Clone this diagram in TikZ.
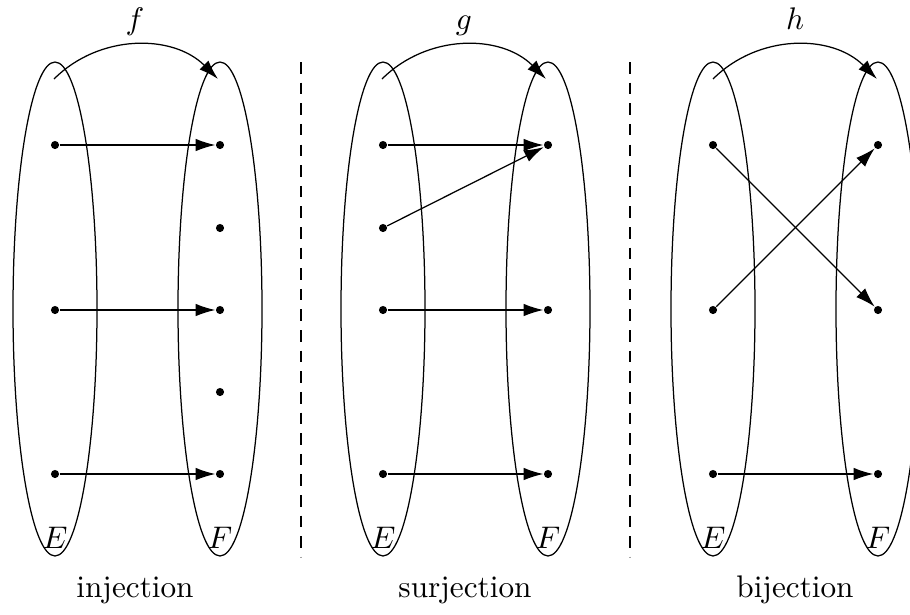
\documentclass[tikz,border=0pt]{standalone}
\usetikzlibrary{arrows.meta}
\begin{document}
\begin{tikzpicture}[x=0.32pt,y=-0.32pt,
  dot/.style={circle,fill=black,inner sep=0pt,minimum size=2.6pt},
  arr/.style={-{Latex[length=6.3pt,width=4pt]}},
  sep/.style={dash pattern=on 3.7pt off 2.9pt},
  fname/.style={anchor=base,inner sep=0pt},
  kind/.style={anchor=base,inner sep=0pt}]
\useasboundingbox (0,0) rectangle (910,615);
\clip (0,0) rectangle (910,615);

% ---------- panel 1: injection ----------
\draw (55,309) ellipse [x radius=13.44pt, y radius=79.04pt];
\draw (220,309) ellipse [x radius=13.44pt, y radius=79.04pt];
\node[dot] (a1) at (55,145) {};
\node[dot] (a2) at (55,310) {};
\node[dot] (a3) at (55,474) {};
\node[dot] (b1) at (220,145) {};
\node[dot] (b2) at (220,228) {};
\node[dot] (b3) at (220,310) {};
\node[dot] (b4) at (220,392) {};
\node[dot] (b5) at (220,474) {};
\draw[arr] (a1) -- (b1);
\draw[arr] (a2) -- (b3);
\draw[arr] (a3) -- (b5);
\coordinate (fs) at (54,79);
\coordinate (ft) at (218,79);
\draw[arr] (fs) to[bend left=45] (ft);
\node[fname] (fl) at (135,29) {$f$};
\node (e1) at (55,538) {$E$};
\node (f1) at (220,538) {$F$};
\node[kind] (k1) at (135,597) {injection};

\draw[sep] (301,62) coordinate (d1s) -- (301,557) coordinate (d1e);

% ---------- panel 2: surjection ----------
\draw (383,309) ellipse [x radius=13.44pt, y radius=79.04pt];
\draw (548,309) ellipse [x radius=13.44pt, y radius=79.04pt];
\node[dot] (c1) at (383,145) {};
\node[dot] (c2) at (383,228) {};
\node[dot] (c3) at (383,310) {};
\node[dot] (c4) at (383,474) {};
\node[dot] (g1) at (548,145) {};
\node[dot] (g2) at (548,310) {};
\node[dot] (g3) at (548,474) {};
\draw[arr] (c1) -- (g1);
\draw[arr] (c2) -- (g1);
\draw[arr] (c3) -- (g2);
\draw[arr] (c4) -- (g3);
\coordinate (gs) at (382,79);
\coordinate (gt) at (546,79);
\draw[arr] (gs) to[bend left=45] (gt);
\node[fname] (gl) at (464,29) {$g$};
\node (e2) at (383,538) {$E$};
\node (f2) at (548,538) {$F$};
\node[kind] (k2) at (465,597) {surjection};

\draw[sep] (630,62) coordinate (d2s) -- (630,557) coordinate (d2e);

% ---------- panel 3: bijection ----------
\draw (713,309) ellipse [x radius=13.44pt, y radius=79.04pt];
\draw (878,309) ellipse [x radius=13.44pt, y radius=79.04pt];
\node[dot] (p1) at (713,145) {};
\node[dot] (p2) at (713,310) {};
\node[dot] (p3) at (713,474) {};
\node[dot] (q1) at (878,145) {};
\node[dot] (q2) at (878,310) {};
\node[dot] (q3) at (878,474) {};
\draw[arr] (p1) -- (q2);
\draw[arr] (p2) -- (q1);
\draw[arr] (p3) -- (q3);
\coordinate (hs) at (713,79);
\coordinate (ht) at (877,79);
\draw[arr] (hs) to[bend left=45] (ht);
\node[fname] (hl) at (795,29) {$h$};
\node (e3) at (713,538) {$E$};
\node (f3) at (878,538) {$F$};
\node[kind] (k3) at (795,597) {bijection};
\end{tikzpicture}
\end{document}
